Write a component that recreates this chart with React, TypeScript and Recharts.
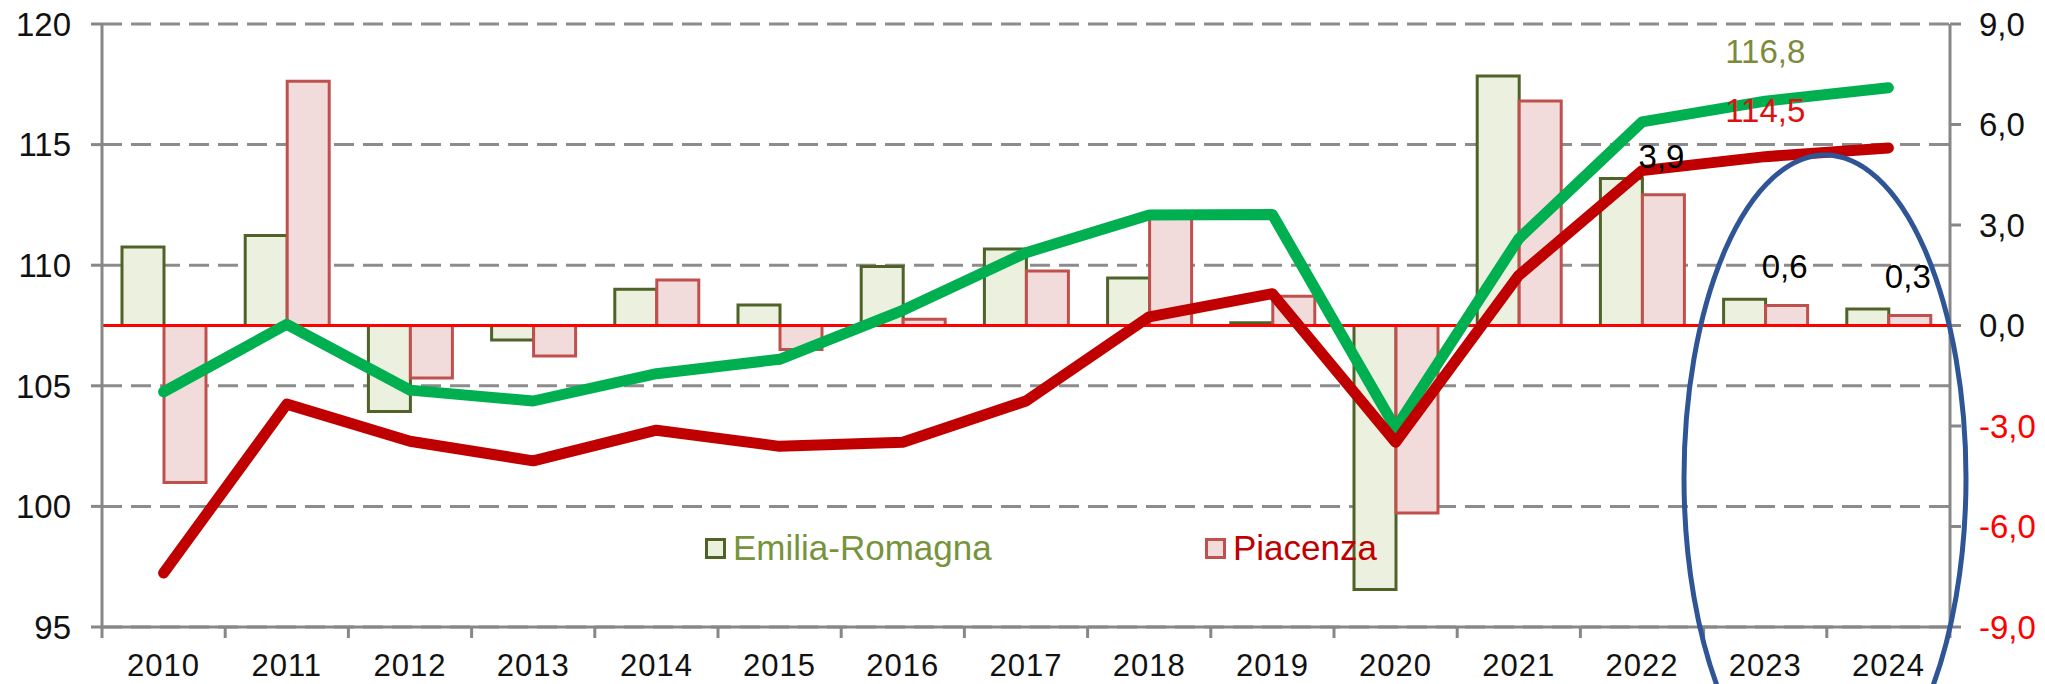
import React from 'react';
import { ComposedChart, Bar, Line, XAxis, YAxis, CartesianGrid, ReferenceLine, LabelList } from 'recharts';

const years = ['2010', '2011', '2012', '2013', '2014', '2015', '2016', '2017', '2018', '2019', '2020', '2021', '2022', '2023', '2024'];

// index levels (left axis)
const emiliaIndex = [104.75, 107.55, 104.82, 104.37, 105.5, 106.1, 108.13, 110.52, 112.08, 112.1, 103.24, 111.1, 115.94, 116.8, 117.36];
const piacenzaIndex = [97.24, 104.24, 102.7, 101.89, 103.16, 102.49, 102.66, 104.37, 107.86, 108.82, 102.66, 109.58, 113.92, 114.5, 114.86];

// yearly % change (right axis)
const emiliaChange = [2.34, 2.69, -2.57, -0.43, 1.08, 0.61, 1.76, 2.28, 1.42, 0.08, -7.88, 7.45, 4.39, 0.78, 0.49];
const piacenzaChange = [-4.69, 7.29, -1.57, -0.91, 1.36, -0.72, 0.19, 1.63, 3.2, 0.87, -5.6, 6.7, 3.9, 0.6, 0.3];

const seriesNames = ['Emilia-Romagna', 'Piacenza'];
const leftTicks = [95, 100, 105, 110, 115, 120];
const rightTicks = [-9, -6, -3, 0, 3, 6, 9];
const labelledLineYear = '2023';
const labelledBarYears = ['2022', '2023', '2024'];

const data = years.map((year, i) => ({
  year,
  erIndex: emiliaIndex[i],
  pcIndex: piacenzaIndex[i],
  erChange: emiliaChange[i],
  pcChange: piacenzaChange[i],
}));

const W = 2045;
const H = 684;
const FONT = '"Liberation Sans", Arial, sans-serif';
const AXIS_GRAY = '#878787';
const X_TICK = 11;
const X_MARGIN = 19;

const fmt = (v: number) => v.toFixed(1).replace('.', ',');

const XTick = (props: any) => {
  const { x, y, payload, index } = props;
  const half = payload.offset || 61.6;
  const axisY = y - X_TICK - X_MARGIN;
  return (
    <g>
      <line x1={x - half} x2={x - half} y1={axisY} y2={axisY + X_TICK} stroke={AXIS_GRAY} strokeWidth={3} />
      {index === years.length - 1 && (
        <line x1={x + half} x2={x + half} y1={axisY} y2={axisY + X_TICK} stroke={AXIS_GRAY} strokeWidth={3} />
      )}
      <text x={x} y={y + 19} textAnchor="middle" fontSize={31} letterSpacing={1} fontFamily={FONT} fill="#111">
        {payload.value}
      </text>
    </g>
  );
};

const RightTick = (props: any) => {
  const { x, y, payload } = props;
  return (
    <text x={x} y={y} dy="0.355em" textAnchor="start" fontSize={33} fontFamily={FONT} fill={payload.value < 0 ? '#ff0000' : '#111'}>
      {fmt(payload.value)}
    </text>
  );
};

const lineLabel = (color: string, lift: number) => (props: any) => {
  const { x, y, value, index } = props;
  if (years[index] !== labelledLineYear) return null;
  return (
    <text x={x} y={y - lift} dy="0.355em" textAnchor="middle" fontSize={33} fontFamily={FONT} fill={color}>
      {fmt(value)}
    </text>
  );
};

const barLabel = (props: any) => {
  const { x, y, width, value, index } = props;
  if (!labelledBarYears.includes(years[index])) return null;
  return (
    <text x={x + width / 2 - 2} y={y - 39} dy="0.355em" textAnchor="middle" fontSize={33} fontFamily={FONT} fill="#000">
      {fmt(value)}
    </text>
  );
};

const legendItems = [
  { name: seriesNames[0], fill: '#ebf1de', stroke: '#4f6228', text: '#77933c', left: 705 },
  { name: seriesNames[1], fill: '#f2dcdb', stroke: '#c0504d', text: '#c00000', left: 1205 },
];

export default function App() {
  return (
    <div style={{ position: 'absolute', left: 0, top: 0, width: W, height: H, background: '#fff' }}>
      <ComposedChart width={W} height={H} data={data} margin={{ top: 24, right: 0, bottom: 0, left: 0 }} barGap={0}>
        <CartesianGrid yAxisId="left" vertical={false} stroke="#8c8c8c" strokeWidth={3} strokeDasharray="20 9" />
        <XAxis
          dataKey="year"
          height={57}
          tickLine={false}
          tickSize={X_TICK}
          tickMargin={X_MARGIN}
          axisLine={{ stroke: AXIS_GRAY, strokeWidth: 3 }}
          tick={<XTick />}
          interval={0}
        />
        <YAxis
          yAxisId="left"
          width={102}
          domain={[95, 120]}
          ticks={leftTicks}
          interval={0}
          tickSize={11}
          tickMargin={20}
          axisLine={{ stroke: AXIS_GRAY, strokeWidth: 3 }}
          tickLine={{ stroke: AXIS_GRAY, strokeWidth: 3 }}
          tick={{ fill: '#111', fontSize: 33, fontFamily: FONT }}
        />
        <YAxis
          yAxisId="right"
          orientation="right"
          width={95}
          domain={[-9, 9]}
          ticks={rightTicks}
          interval={0}
          tickSize={11}
          tickMargin={18}
          axisLine={{ stroke: AXIS_GRAY, strokeWidth: 3 }}
          tickLine={{ stroke: AXIS_GRAY, strokeWidth: 3 }}
          tick={<RightTick />}
        />
        <Bar yAxisId="right" dataKey="erChange" name={seriesNames[0]} barSize={42} fill="#ebf1de" stroke="#4f6228" strokeWidth={3} isAnimationActive={false} />
        <Bar yAxisId="right" dataKey="pcChange" name={seriesNames[1]} barSize={42} fill="#f2dcdb" stroke="#c0504d" strokeWidth={3} isAnimationActive={false}>
          <LabelList dataKey="pcChange" content={barLabel} />
        </Bar>
        <ReferenceLine yAxisId="right" y={0} stroke="#ff0000" strokeWidth={3} />
        <Line yAxisId="left" type="linear" dataKey="erIndex" stroke="#00b050" strokeWidth={11} strokeLinecap="round" strokeLinejoin="round" dot={false} activeDot={false} isAnimationActive={false}>
          <LabelList dataKey="erIndex" content={lineLabel('#7d8a3c', 50)} />
        </Line>
        <Line yAxisId="left" type="linear" dataKey="pcIndex" stroke="#c00000" strokeWidth={11} strokeLinecap="round" strokeLinejoin="round" dot={false} activeDot={false} isAnimationActive={false}>
          <LabelList dataKey="pcIndex" content={lineLabel('#dd1111', 46)} />
        </Line>
      </ComposedChart>

      {legendItems.map((it) => (
        <div
          key={it.name}
          style={{ position: 'absolute', left: it.left, top: 528, display: 'flex', alignItems: 'center', fontFamily: FONT, fontSize: 35, color: it.text, whiteSpace: 'nowrap' }}
        >
          <span style={{ display: 'inline-block', width: 15, height: 15, background: it.fill, border: `3px solid ${it.stroke}`, marginRight: 7 }} />
          <span>{it.name}</span>
        </div>
      ))}

      <svg width={W} height={H} style={{ position: 'absolute', left: 0, top: 0, pointerEvents: 'none' }}>
        <ellipse cx={1825} cy={478} rx={141} ry={323} fill="none" stroke="#2f5597" strokeWidth={5} />
      </svg>
    </div>
  );
}
